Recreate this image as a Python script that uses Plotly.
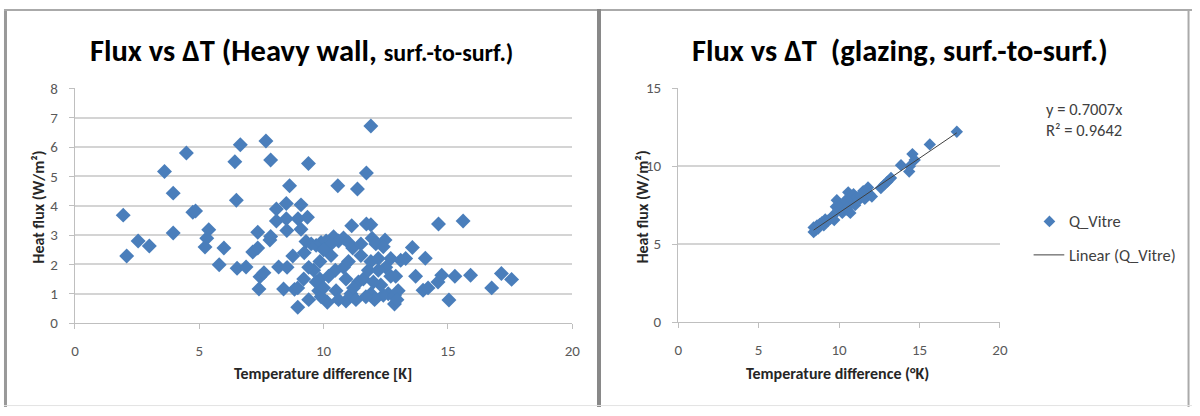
import plotly.graph_objects as go

# ---------------- data ----------------
heavy_dT = [1.94, 2.08, 2.54, 2.99, 3.60, 3.95, 3.95, 4.48, 4.74, 4.85, 5.38, 5.30, 5.23, 5.99, 5.80,
            6.43, 6.65, 6.49, 6.52, 6.88, 7.15, 7.35, 7.35, 7.44, 7.40, 7.60, 7.68, 7.87, 7.84, 7.87,
            8.10, 8.10, 8.19, 8.39, 8.50, 8.50, 8.52, 8.63, 8.53, 8.76, 8.83, 8.96, 8.96, 9.09, 8.97,
            9.35, 9.39, 9.09, 9.29, 9.22,
            11.90, 11.72, 10.57, 11.36, 14.62, 15.61, 11.13, 11.72, 11.90, 12.47, 13.57, 13.10, 13.30,
            14.09, 13.70, 14.75, 14.60, 15.28, 15.91, 14.00, 14.20, 15.04, 16.76, 17.15, 17.56, 12.85,
            12.60, 12.90,
            10.40, 10.60, 11.17, 11.50, 11.95, 12.10, 11.90, 12.50, 12.70, 12.40, 12.85, 10.47, 10.80,
            9.85, 9.85, 9.80, 10.15, 10.90, 11.10, 11.40, 11.60, 11.90, 12.05, 12.30,
            9.50, 9.70, 9.90, 10.10, 10.30, 10.80, 11.00, 9.60, 9.70, 9.90, 10.00, 10.20, 10.30, 10.50,
            10.60, 10.90, 11.20, 11.30, 11.50, 11.70, 11.80, 12.20, 12.00, 12.40, 12.70, 13.00, 12.95,
            12.20, 11.00, 10.00, 9.40, 9.20, 9.40]
heavy_q = [3.68, 2.29, 2.80, 2.63, 5.17, 4.43, 3.07, 5.80, 3.78, 3.82, 3.18, 2.89, 2.59, 2.56, 1.99,
           5.50, 6.08, 4.19, 1.87, 1.91, 2.42, 2.56, 3.10, 1.58, 1.16, 1.72, 6.21, 5.56, 2.83, 2.95,
           3.89, 3.48, 1.91, 1.16, 4.08, 3.56, 3.16, 4.68, 1.90, 2.29, 1.15, 0.54, 1.20, 4.03, 3.56,
           3.61, 5.44, 3.20, 2.78, 2.40,
           6.72, 5.12, 4.68, 4.57, 3.38, 3.48, 3.32, 3.38, 3.35, 2.83, 2.58, 2.14, 2.20,
           2.21, 1.60, 1.63, 1.40, 1.60, 1.63, 1.12, 1.20, 0.79, 1.20, 1.69, 1.49, 0.65,
           1.00, 1.60,
           2.94, 2.80, 2.56, 2.70, 2.89, 2.70, 2.10, 1.90, 1.60, 0.95, 0.93, 1.80, 1.90,
           2.10, 1.50, 1.10, 0.71, 0.75, 1.00, 1.40, 1.50, 1.00, 0.80, 1.30,
           2.70, 2.65, 2.75, 2.80, 2.70, 2.90, 2.75, 1.80, 1.40, 0.90, 1.20, 1.60, 2.30, 1.10,
           0.80, 1.50, 1.20, 0.80, 2.30, 0.90, 1.80, 2.20, 1.40, 2.60, 2.20, 1.10, 0.80,
           1.80, 2.10, 2.50, 1.90, 1.50, 0.80]

glazing_dT = [8.42, 8.42, 8.55, 8.63, 8.70, 8.80, 8.94, 9.05, 9.14, 9.30, 9.45, 9.60, 9.70, 9.80,
              9.86, 9.95, 10.10, 10.20, 10.40, 10.50, 10.57, 10.57, 10.70, 10.75, 10.90, 11.00,
              11.10, 11.20, 11.35, 11.50, 11.60, 11.80, 11.90, 12.04, 12.60, 12.82, 13.00, 13.23,
              13.85, 14.36, 14.40, 14.56, 14.70, 15.64, 17.32]
glazing_q = [5.77, 6.07, 5.90, 6.20, 6.00, 6.30, 6.40, 6.20, 6.58, 6.50, 6.60, 6.80, 6.55, 7.40,
             7.81, 7.20, 7.50, 7.00, 7.80, 7.20, 8.32, 7.40, 7.00, 7.90, 8.20, 7.50,
             8.00, 7.80, 8.10, 8.40, 7.90, 8.63, 8.20, 8.05, 8.60, 8.83, 9.00, 9.24,
             10.06, 9.65, 10.00, 10.77, 10.40, 11.39, 12.20]
trend_slope = 0.7007
trend_r2 = 0.9642

x_ticks = [0, 5, 10, 15, 20]

# ---------------- style ----------------
FONT = "Carlito, 'Liberation Sans Narrow', 'Open Sans', sans-serif"
BLUE = "#4a7ebb"
GRID = "#d4d4d4"
AXIS = "#bfbfbf"
TICKC = "#595959"
W, H = 1200, 416

def px(x):
    return x / W

def py(y):
    return 1 - y / H

fig = go.Figure()

fig.add_trace(go.Scatter(x=heavy_dT, y=heavy_q, mode="markers", xaxis="x", yaxis="y",
                         marker=dict(symbol="diamond", size=11.5, color=BLUE, line=dict(width=0)),
                         showlegend=False))

fig.add_trace(go.Scatter(x=glazing_dT, y=glazing_q, mode="markers", xaxis="x2", yaxis="y2",
                         marker=dict(symbol="diamond", size=9.5, color=BLUE, line=dict(width=0)),
                         name="Q_Vitre", showlegend=False))

tx = [min(glazing_dT), max(glazing_dT)]
fig.add_trace(go.Scatter(x=tx, y=[trend_slope * v for v in tx], mode="lines", xaxis="x2", yaxis="y2",
                         line=dict(color="#404040", width=1), showlegend=False))

axis_common = dict(showline=True, linecolor=AXIS, linewidth=1, ticks="outside", ticklen=5,
                   tickcolor=AXIS, tickfont=dict(family=FONT, size=15, color=TICKC),
                   zeroline=False, fixedrange=True)

fig.update_layout(
    autosize=True,
    margin=dict(l=0, r=0, t=0, b=0),
    paper_bgcolor="white", plot_bgcolor="white",
    showlegend=False,
    xaxis=dict(domain=[px(71.7), px(574)], range=[0, 20], tickvals=x_ticks, showgrid=False,
               anchor="y", ticklabelstandoff=9, **axis_common),
    yaxis=dict(domain=[py(328.3), py(83)], range=[0, 8], dtick=1, showgrid=True, gridcolor=GRID,
               gridwidth=2, anchor="x", ticklabelstandoff=8, **axis_common),
    xaxis2=dict(domain=[px(681), px(1006)], range=[0, 20], tickvals=x_ticks, showgrid=False,
                anchor="y2", ticklabelstandoff=9, **axis_common),
    yaxis2=dict(domain=[py(327.3), py(82.7)], range=[0, 15], dtick=5, showgrid=True, gridcolor=GRID,
                gridwidth=2, anchor="x2", ticklabelstandoff=8, **axis_common),
)

ann = []
title_font = dict(family=FONT, size=30.5, color="#000000")
ann.append(dict(x=px(300), y=py(43), xref="paper", yref="paper", showarrow=False,
                text="<b>Flux vs ΔT (Heavy wall, <span style='font-size:24px'>surf.-to-surf.)</span></b>",
                font=title_font, xanchor="center", yanchor="middle"))
ann.append(dict(x=px(905), y=py(43), xref="paper", yref="paper", showarrow=False,
                text="<b>Flux vs ΔT  (glazing, surf.-to-surf.)</b>",
                font=title_font, xanchor="center", yanchor="middle"))
lab_font = dict(family=FONT, size=16, color="#262626")
ann.append(dict(x=px(34), y=py(207), xref="paper", yref="paper", showarrow=False, textangle=-90,
                text="<b>Heat flux (W/m²)</b>", font=lab_font, xanchor="center", yanchor="middle"))
ann.append(dict(x=px(644), y=py(207), xref="paper", yref="paper", showarrow=False, textangle=-90,
                text="<b>Heat flux (W/m²)</b>", font=lab_font, xanchor="center", yanchor="middle"))
ann.append(dict(x=px(322), y=py(381), xref="paper", yref="paper", showarrow=False,
                text="<b>Temperature difference [K]</b>", font=lab_font, xanchor="center", yanchor="middle"))
ann.append(dict(x=px(842), y=py(381), xref="paper", yref="paper", showarrow=False,
                text="<b>Temperature difference (°K)</b>", font=lab_font, xanchor="center", yanchor="middle"))
leg_font = dict(family=FONT, size=16.5, color="#404040")
ann.append(dict(x=px(1051), y=py(116), xref="paper", yref="paper", showarrow=False, align="left",
                text=f"y = {trend_slope:.4f}x<br>R² = {trend_r2:.4f}", font=leg_font,
                xanchor="left", yanchor="middle"))
ann.append(dict(x=px(1074), y=py(222), xref="paper", yref="paper", showarrow=False,
                text="Q_Vitre", font=leg_font, xanchor="left", yanchor="middle"))
ann.append(dict(x=px(1074), y=py(257), xref="paper", yref="paper", showarrow=False,
                text="Linear (Q_Vitre)", font=leg_font, xanchor="left", yanchor="middle"))
fig.update_layout(annotations=ann)

# legend symbol drawn as a small scatter in its own hidden axis
fig.add_trace(go.Scatter(x=[0.5], y=[0.5], mode="markers", xaxis="x3", yaxis="y3",
                         marker=dict(symbol="diamond", size=9, color=BLUE), showlegend=False))
fig.update_layout(
    xaxis3=dict(domain=[px(1049), px(1063)], range=[0, 1], visible=False, fixedrange=True, anchor="y3"),
    yaxis3=dict(domain=[py(229), py(215)], range=[0, 1], visible=False, fixedrange=True, anchor="x3"),
)

shapes = [
    dict(type="line", xref="paper", yref="paper", x0=px(1040), x1=px(1071), y0=py(257), y1=py(257),
         line=dict(color="#404040", width=1)),
    # panel frames
    dict(type="line", xref="paper", yref="paper", x0=px(1.5), x1=px(1.5), y0=0, y1=1,
         line=dict(color="#999999", width=3)),
    dict(type="line", xref="paper", yref="paper", x0=0, x1=1, y0=py(1), y1=py(1),
         line=dict(color="#aaaaaa", width=2)),
    dict(type="line", xref="paper", yref="paper", x0=px(601), x1=px(601), y0=0, y1=1,
         line=dict(color="#888888", width=4)),
    dict(type="line", xref="paper", yref="paper", x0=px(1196.5), x1=px(1196.5), y0=0, y1=1,
         line=dict(color="#aaaaaa", width=2)),
    dict(type="line", xref="paper", yref="paper", x0=0, x1=1, y0=py(414.5), y1=py(414.5),
         line=dict(color="#e3e3e3", width=1)),
]
fig.update_layout(shapes=shapes)

post = ("document.documentElement.style.margin='0';document.documentElement.style.padding='0';"
        "document.documentElement.style.overflow='hidden';"
        "document.body.style.margin='0';document.body.style.padding='0';document.body.style.overflow='hidden';"
        "var gd=document.getElementById('{plot_id}');gd.style.position='fixed';gd.style.left='0px';gd.style.top='0px';")
fig.write_html("out.html", config={"displayModeBar": False, "responsive": True},
               default_width="100vw", default_height="100vh", post_script=post)
